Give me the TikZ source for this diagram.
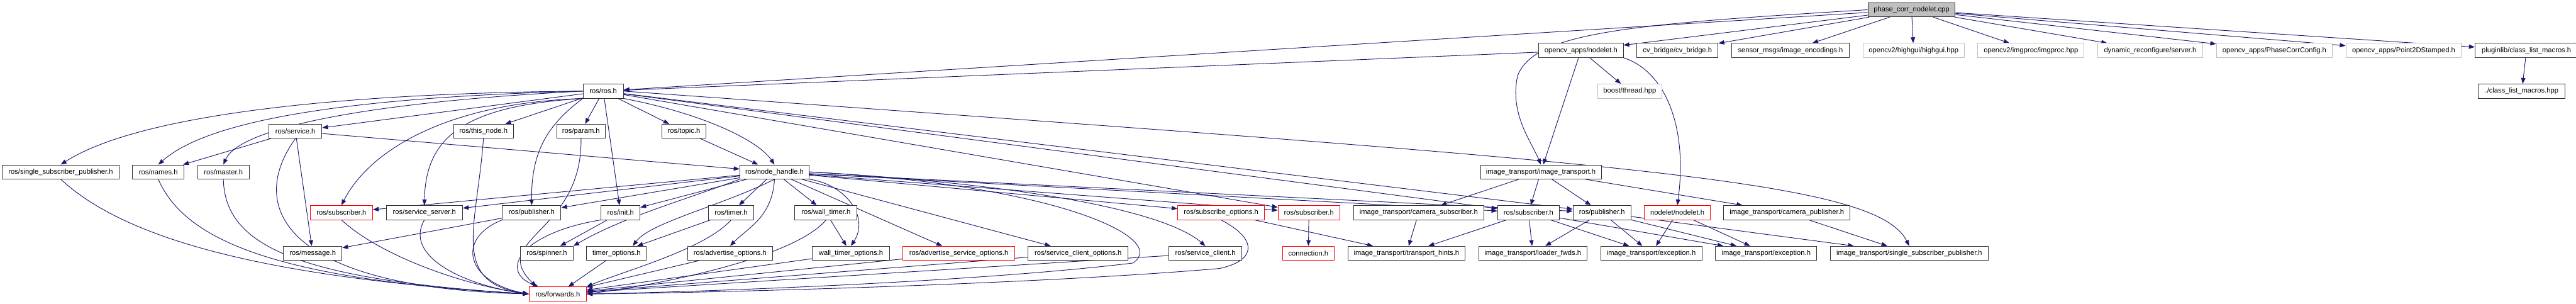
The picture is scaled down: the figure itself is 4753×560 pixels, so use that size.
\documentclass[tikz,border=0pt]{standalone}
\usepackage{fontspec}
\setmainfont{Liberation Sans}
\usetikzlibrary{arrows.meta, positioning, calc, backgrounds}
\definecolor{edgeblue}{HTML}{191970}
\definecolor{truncred}{HTML}{FF0000}
\definecolor{extgray}{HTML}{BFBFBF}
\definecolor{rootfill}{HTML}{BFBFBF}

\begin{document}
\begin{tikzpicture}[x=0.75pt, y=-0.75pt,
  incl/.style={rectangle, draw=black!80, fill=white, line width=0.8pt, minimum height=19.5pt, inner sep=0pt, font=\fontsize{9.75}{11}\selectfont},
  inclred/.style={incl, draw=truncred},
  inclext/.style={incl, draw=extgray},
  inclroot/.style={incl, fill=rootfill},
  wd/.style={minimum width=#1*0.75pt},
  arrow/.style={->, >={Triangle[length=8pt, width=6pt]}, draw=edgeblue, line width=0.8pt}
]
\path[use as bounding box] (0,0) rectangle (4753,560);

% Wurzel
\node[inclroot, wd=161] (phasecorr) at (3527,18) {phase\_corr\_nodelet.cpp};

% Ebene 1
\node[incl, wd=156] (cvnodelet) at (2917,93) {opencv\_apps/nodelet.h};
\node[incl, wd=150, right=18pt of cvnodelet] (cvbridge) {cv\_bridge/cv\_bridge.h};
\node[incl, wd=217, right=18pt of cvbridge] (imgenc) {sensor\_msgs/image\_encodings.h};
\node[inclext, wd=187, right=18pt of imgenc] (highgui) {opencv2/highgui/highgui.hpp};
\node[inclext, wd=196, right=18pt of highgui] (imgproc) {opencv2/imgproc/imgproc.hpp};
\node[inclext, wd=194, right=18pt of imgproc] (dynrec) {dynamic\_reconfigure/server.h};
\node[inclext, wd=214, right=18pt of dynrec] (phasecfg) {opencv\_apps/PhaseCorrConfig.h};
\node[inclext, wd=213, right=18pt of phasecfg] (pointstamped) {opencv\_apps/Point2DStamped.h};
\node[incl, wd=190, right=18pt of pointstamped] (classlisth) {pluginlib/class\_list\_macros.h};

% Ebene 2
\node[incl, wd=74] (ros) at (1113,168) {ros/ros.h};
\node[inclext, wd=119] (boostthread) at (3007,168) {boost/thread.hpp};
\node[incl, wd=160] (classlisthpp) at (4653,168) {./class\_list\_macros.hpp};

% Ebene 3
\node[incl, wd=98] (service) at (545,242) {ros/service.h};
\node[incl, wd=110] (thisnode) at (892,242) {ros/this\_node.h};
\node[incl, wd=90] (param) at (1072,242) {ros/param.h};
\node[incl, wd=82] (topic) at (1262,242) {ros/topic.h};

% Ebene 4
\node[incl, wd=215] (ssp) at (112,317) {ros/single\_subscriber\_publisher.h};
\node[incl, wd=95, right=18pt of ssp] (names) {ros/names.h};
\node[incl, wd=95, right=18pt of names] (master) {ros/master.h};
\node[incl, wd=128] (nodehandle) at (1429,317) {ros/node\_handle.h};
\node[incl, wd=223] (imagetransport) at (2843,317) {image\_transport/image\_transport.h};

% Ebene 5
\node[inclred, wd=115] (rossub) at (630,392) {ros/subscriber.h};
\node[incl, wd=141, right=18pt of rossub] (serviceserver) {ros/service\_server.h};
\node[incl, wd=108] (publisher) at (981,392) {ros/publisher.h};
\node[incl, wd=72] (init) at (1145,392) {ros/init.h};
\node[incl, wd=84] (timer) at (1349,392) {ros/timer.h};
\node[incl, wd=115] (walltimer) at (1524,392) {ros/wall\_timer.h};
\node[inclred, wd=160] (subopts) at (2253,392) {ros/subscribe\_options.h};
\node[inclred, wd=114, right=18pt of subopts] (rossubb) {ros/subscriber.h};
\node[incl, wd=241, right=18pt of rossubb] (camsub) {image\_transport/camera\_subscriber.h};
\node[incl, wd=114, right=18pt of camsub] (itsub) {ros/subscriber.h};
\node[incl, wd=107, right=18pt of itsub] (itpub) {ros/publisher.h};
\node[inclred, wd=121, right=18pt of itpub] (nodeletnode) {nodelet/nodelet.h};
\node[incl, wd=233, right=18pt of nodeletnode] (campub) {image\_transport/camera\_publisher.h};

% Ebene 6
\node[incl, wd=108] (msg) at (577,467) {ros/message.h};
\node[incl, wd=97] (spinner) at (1009,467) {ros/spinner.h};
\node[incl, wd=110, right=18pt of spinner] (timeropts) {timer\_options.h};
\node[incl, wd=157] (advopts) at (1347,467) {ros/advertise\_options.h};
\node[incl, wd=142] (walltimeropts) at (1570,467) {wall\_timer\_options.h};
\node[inclred, wd=206, right=18pt of walltimeropts] (advsrvopts) {ros/advertise\_service\_options.h};
\node[incl, wd=184, right=18pt of advsrvopts] (srvclopts) {ros/service\_client\_options.h};
\node[incl, wd=134] (srvclient) at (2224,467) {ros/service\_client.h};
\node[inclred, wd=96] (connection) at (2414,467) {connection.h};
\node[incl, wd=216, right=18pt of connection] (hints) {image\_transport/transport\_hints.h};
\node[incl, wd=200, right=18pt of hints] (loader) {image\_transport/loader\_fwds.h};
\node[incl, wd=187, right=18pt of loader] (exca) {image\_transport/exception.h};
\node[incl, wd=187, right=18pt of exca] (excb) {image\_transport/exception.h};
\node[incl, wd=291, right=18pt of excb] (itssp) {image\_transport/single\_subscriber\_publisher.h};

% Ebene 7
\node[inclred, wd=106] (forwards) at (1029,542) {ros/forwards.h};

\begin{pgfonlayer}{background}
\fill[white] (0,0) rectangle (4753,560);

% Wurzel -> Ebene 1
\draw[arrow] (phasecorr) -- (ros);
\draw[arrow] (phasecorr) -- (cvnodelet);
\draw[arrow] (phasecorr) -- (cvbridge);
\draw[arrow] (phasecorr) -- (imgenc);
\draw[arrow] (phasecorr) -- (highgui);
\draw[arrow] (phasecorr) -- (imgproc);
\draw[arrow] (phasecorr) -- (dynrec);
\draw[arrow] (phasecorr) -- (phasecfg);
\draw[arrow] (phasecorr) -- (pointstamped);
\draw[arrow] (phasecorr) -- (classlisth);
\draw[arrow] (phasecorr.west) .. controls (3000,45) and (2830,60) .. (2800,140) .. controls (2785,210) and (2825,260) .. (imagetransport.north);

% opencv_apps/nodelet.h
\draw[arrow] (cvnodelet) -- (ros);
\draw[arrow] (cvnodelet) -- (boostthread);
\draw[arrow] (cvnodelet) -- (imagetransport);
\draw[arrow] (cvnodelet.south east) .. controls (3070,130) and (3115,230) .. (nodeletnode.north);
\draw[arrow] (classlisth) -- (classlisthpp);

% ros/ros.h
\draw[arrow] (ros) -- (service);
\draw[arrow] (ros) -- (thisnode);
\draw[arrow] (ros) -- (param);
\draw[arrow] (ros) -- (topic);
\draw[arrow] (ros) -- (init);
\draw[arrow] (ros.west) .. controls (600,172) and (250,215) .. (ssp.north);
\draw[arrow] (ros.west) .. controls (620,180) and (380,225) .. (names.north);
\draw[arrow] (ros.west) .. controls (650,190) and (440,240) .. (master.north);
\draw[arrow] (ros.south west) .. controls (820,190) and (680,280) .. (rossub.north);
\draw[arrow] (ros.south west) .. controls (860,195) and (785,250) .. (serviceserver.north);
\draw[arrow] (ros.south west) .. controls (1010,230) and (980,280) .. (publisher.north);
\draw[arrow] (ros.south east) .. controls (1300,210) and (1400,260) .. (nodehandle.north);
\draw[arrow] (ros) -- (rossubb);
\draw[arrow] (ros) -- (itsub);
\draw[arrow] (ros) -- (itpub);
\draw[arrow] (ros.east) .. controls (3000,300) and (3460,330) .. (itssp.north);

% ros/service.h, ros/topic.h
\draw[arrow] (service) -- (nodehandle);
\draw[arrow] (service) -- (names);
\draw[arrow] (service) -- (msg);
\draw[arrow] (service.south) .. controls (455,380) and (520,530) .. (forwards.west);
\draw[arrow] (topic) -- (nodehandle);

% nach ros/forwards.h
\draw[arrow] (ssp.south) .. controls (220,430) and (450,510) .. (forwards.west);
\draw[arrow] (names.south) .. controls (340,440) and (500,515) .. (forwards.west);
\draw[arrow] (master.south) .. controls (415,450) and (540,515) .. (forwards.west);
\draw[arrow] (rossub.south) .. controls (700,470) and (850,525) .. (forwards.west);
\draw[arrow] (serviceserver.south) .. controls (745,470) and (850,525) .. (forwards.west);
\draw[arrow] (publisher.south west) .. controls (840,440) and (860,520) .. (forwards.west);
\draw[arrow] (thisnode.south) .. controls (880,420) and (830,520) .. (forwards.west);
\draw[arrow] (param.south) .. controls (1075,430) and (900,440) .. ($(forwards.north west)+(14,0)$);
\draw[arrow] (init.south west) .. controls (960,430) and (920,500) .. ($(forwards.north west)+(18,0)$);
\draw[arrow] (publisher) -- (msg);
\draw[arrow] (init) -- (spinner);
\draw[arrow] (timer) -- (timeropts);
\draw[arrow] (walltimer) -- (walltimeropts);
\draw[arrow] (timeropts) -- (forwards);
\draw[arrow] (timer.south) .. controls (1300,460) and (1150,500) .. (forwards.north east);
\draw[arrow] (walltimer.south) .. controls (1470,470) and (1250,520) .. (forwards.east);
\draw[arrow] (advopts) -- (forwards);
\draw[arrow] (walltimeropts) -- (forwards);
\draw[arrow] (advsrvopts) -- (forwards);
\draw[arrow] (srvclopts) -- (forwards);
\draw[arrow] (srvclient) -- (forwards);
\draw[arrow] (subopts.south) .. controls (2320,440) and (2320,480) .. (2250,495) .. controls (1900,525) and (1300,540) .. (forwards.east);

% ros/node_handle.h
\draw[arrow] (nodehandle) -- (rossub);
\draw[arrow] (nodehandle) -- (serviceserver);
\draw[arrow] (nodehandle) -- (publisher);
\draw[arrow] (nodehandle) -- (init);
\draw[arrow] (nodehandle) -- (timer);
\draw[arrow] (nodehandle) -- (walltimer);
\draw[arrow] (nodehandle) -- (advsrvopts);
\draw[arrow] (nodehandle) -- (srvclopts);
\draw[arrow] (nodehandle) -- (subopts);
\draw[arrow] (nodehandle) -- (rossubb);
\draw[arrow] (nodehandle) -- (itsub);
\draw[arrow] (nodehandle) -- (itpub);
\draw[arrow] (nodehandle.south west) .. controls (1260,370) and (1150,400) .. (spinner.north east);
\draw[arrow] (nodehandle.south) .. controls (1330,380) and (1200,410) .. ($(timeropts.north)+(30,0)$);
\draw[arrow] (nodehandle.south) .. controls (1425,400) and (1380,420) .. (advopts.north);
\draw[arrow] (nodehandle.south east) .. controls (1560,340) and (1605,400) .. (walltimeropts.north);
\draw[arrow] (nodehandle.east) .. controls (1900,340) and (2150,390) .. (srvclient.north);
\draw[arrow] (nodehandle.east) .. controls (1950,340) and (2160,440) .. (2090,485) .. controls (1800,520) and (1300,538) .. (forwards.east);

% image_transport
\draw[arrow] (imagetransport) -- (camsub);
\draw[arrow] (imagetransport) -- (itsub);
\draw[arrow] (imagetransport) -- (itpub);
\draw[arrow] (imagetransport) -- (campub);
\draw[arrow] (subopts) -- (hints);
\draw[arrow] (rossubb) -- (connection);
\draw[arrow] (camsub) -- (hints);
\draw[arrow] (itsub) -- (hints);
\draw[arrow] (itsub) -- (loader);
\draw[arrow] (itsub) -- (exca);
\draw[arrow] (itsub) -- (excb);
\draw[arrow] (itpub) -- (loader);
\draw[arrow] (itpub) -- (exca);
\draw[arrow] (itpub) -- (excb);
\draw[arrow] (itpub) -- (itssp);
\draw[arrow] (nodeletnode) -- (exca);
\draw[arrow] (nodeletnode) -- (excb);
\draw[arrow] (campub) -- (itssp);
\end{pgfonlayer}
\end{tikzpicture}
\end{document}
